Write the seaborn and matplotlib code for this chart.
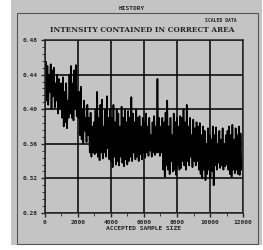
import numpy as np
import pandas as pd
import matplotlib
matplotlib.use("Agg")
import matplotlib.pyplot as plt
import seaborn as sns
from matplotlib.patches import Rectangle

# intensity values, left to right
intensity = [
    0.43, 0.455, 0.41, 0.45, 0.405, 0.44, 0.42, 0.452, 0.40, 0.445, 0.415, 0.448, 0.402, 0.43, 0.41, 0.44, 0.395, 0.435, 0.40, 0.42,
    0.43, 0.39, 0.437, 0.38, 0.42, 0.385, 0.43, 0.378, 0.41, 0.39,
    0.44, 0.395, 0.45, 0.39, 0.43, 0.387, 0.445, 0.40, 0.451, 0.392, 0.42, 0.39,
    0.42, 0.37, 0.426, 0.365, 0.40, 0.361, 0.41, 0.375, 0.39, 0.362, 0.405, 0.37,
    0.39, 0.35, 0.396, 0.345, 0.38, 0.35, 0.385, 0.348,
    0.40, 0.35, 0.42, 0.345, 0.39, 0.341, 0.405, 0.35, 0.411, 0.343, 0.38, 0.35, 0.40, 0.345, 0.415, 0.355, 0.39, 0.342,
    0.40, 0.34, 0.39, 0.333, 0.405, 0.345, 0.385, 0.336, 0.40, 0.34, 0.395, 0.335, 0.38, 0.345, 0.403, 0.338, 0.39, 0.334, 0.40, 0.342, 0.385, 0.336, 0.398, 0.34,
    0.39, 0.345, 0.414, 0.34, 0.395, 0.35, 0.385, 0.342, 0.40, 0.345, 0.39, 0.34, 0.392, 0.348, 0.38, 0.342,
    0.39, 0.35, 0.385, 0.344, 0.395, 0.35, 0.38, 0.346, 0.39, 0.352, 0.37, 0.345, 0.385, 0.35, 0.392, 0.347, 0.38, 0.35, 0.435, 0.35, 0.39, 0.346, 0.38, 0.35,
    0.39, 0.33, 0.385, 0.322, 0.396, 0.335, 0.41, 0.33, 0.38, 0.325, 0.39, 0.34, 0.37, 0.328, 0.395, 0.33, 0.385, 0.324, 0.39, 0.335, 0.38, 0.33, 0.392, 0.332,
    0.39, 0.34, 0.40, 0.335, 0.385, 0.33, 0.405, 0.34, 0.38, 0.335, 0.39, 0.345, 0.37, 0.333, 0.388, 0.34, 0.378, 0.335, 0.385, 0.34,
    0.38, 0.33, 0.384, 0.325, 0.37, 0.32, 0.38, 0.33, 0.375, 0.318, 0.36, 0.325, 0.378, 0.33, 0.37, 0.32, 0.365, 0.328, 0.38, 0.312,
    0.37, 0.335, 0.379, 0.33, 0.36, 0.338, 0.375, 0.332, 0.365, 0.335, 0.378, 0.33, 0.36, 0.334, 0.37, 0.336,
    0.375, 0.33, 0.38, 0.325, 0.37, 0.322, 0.382, 0.33, 0.365, 0.326, 0.378, 0.33, 0.37, 0.325, 0.38, 0.324, 0.372, 0.33,
]
last_sample = 11900
x_ticks = [0, 2000, 4000, 6000, 8000, 10000, 12000]
y_ticks = [0.28, 0.32, 0.36, 0.40, 0.44, 0.48]

df = pd.DataFrame({"sample": np.linspace(0, last_sample, len(intensity)),
                   "intensity": intensity})

sns.set_style("ticks")
plt.rcParams["font.family"] = ["DejaVu Sans Mono", "DejaVu Sans"]
bg = "#c4c4c4"

fig = plt.figure(figsize=(2.63, 2.5), dpi=100)
fig.patch.set_facecolor("white")
fig.patches.append(Rectangle((0.04, 0.02), 0.955, 0.98, transform=fig.transFigure,
                             facecolor=bg, edgecolor="none", zorder=-10))
# frame lines of the scanned panel
fig.patches.append(Rectangle((0.065, 0.025), 0.915, 0.925, transform=fig.transFigure,
                             facecolor="none", edgecolor="#555555", lw=0.8))

ax = fig.add_axes([0.171, 0.148, 0.753, 0.692])
ax.set_facecolor(bg)
sns.lineplot(data=df, x="sample", y="intensity", ax=ax, color="black", lw=1.2)

ax.set_xlim(0, 12000)
ax.set_ylim(0.28, 0.48)
ax.set_xticks(x_ticks)
ax.set_xticklabels([str(t) for t in x_ticks], fontsize=4.5, fontweight="bold")
ax.set_yticks(y_ticks)
ax.set_yticklabels([f"{t:.2f}" for t in y_ticks], fontsize=4.5, fontweight="bold")
ax.set_xticks(np.arange(0, 12001, 1000), minor=True)
ax.set_yticks(np.arange(0.28, 0.4801, 0.008), minor=True)
ax.tick_params(which="major", length=3, width=1, pad=2)
ax.tick_params(which="minor", length=2, width=0.6)
ax.grid(True, which="major", color="black", lw=1.1)
for s in ax.spines.values():
    s.set_linewidth(1.1)
ax.set_xlabel("ACCEPTED SAMPLE SIZE", fontsize=4.5, fontweight="bold", labelpad=1)
ax.set_ylabel("")

fig.text(0.5, 0.965, "HISTORY", ha="center", va="center", fontsize=4.5, fontweight="bold")
fig.text(0.84, 0.918, "SCALED DATA", ha="center", va="center", fontsize=3.5, fontweight="bold")
fig.text(0.54, 0.878, "INTENSITY CONTAINED IN CORRECT AREA", ha="center", va="center",
         fontsize=5.3, fontweight="bold", family="DejaVu Serif")

fig.savefig("out.png", dpi=100, facecolor=fig.get_facecolor())
